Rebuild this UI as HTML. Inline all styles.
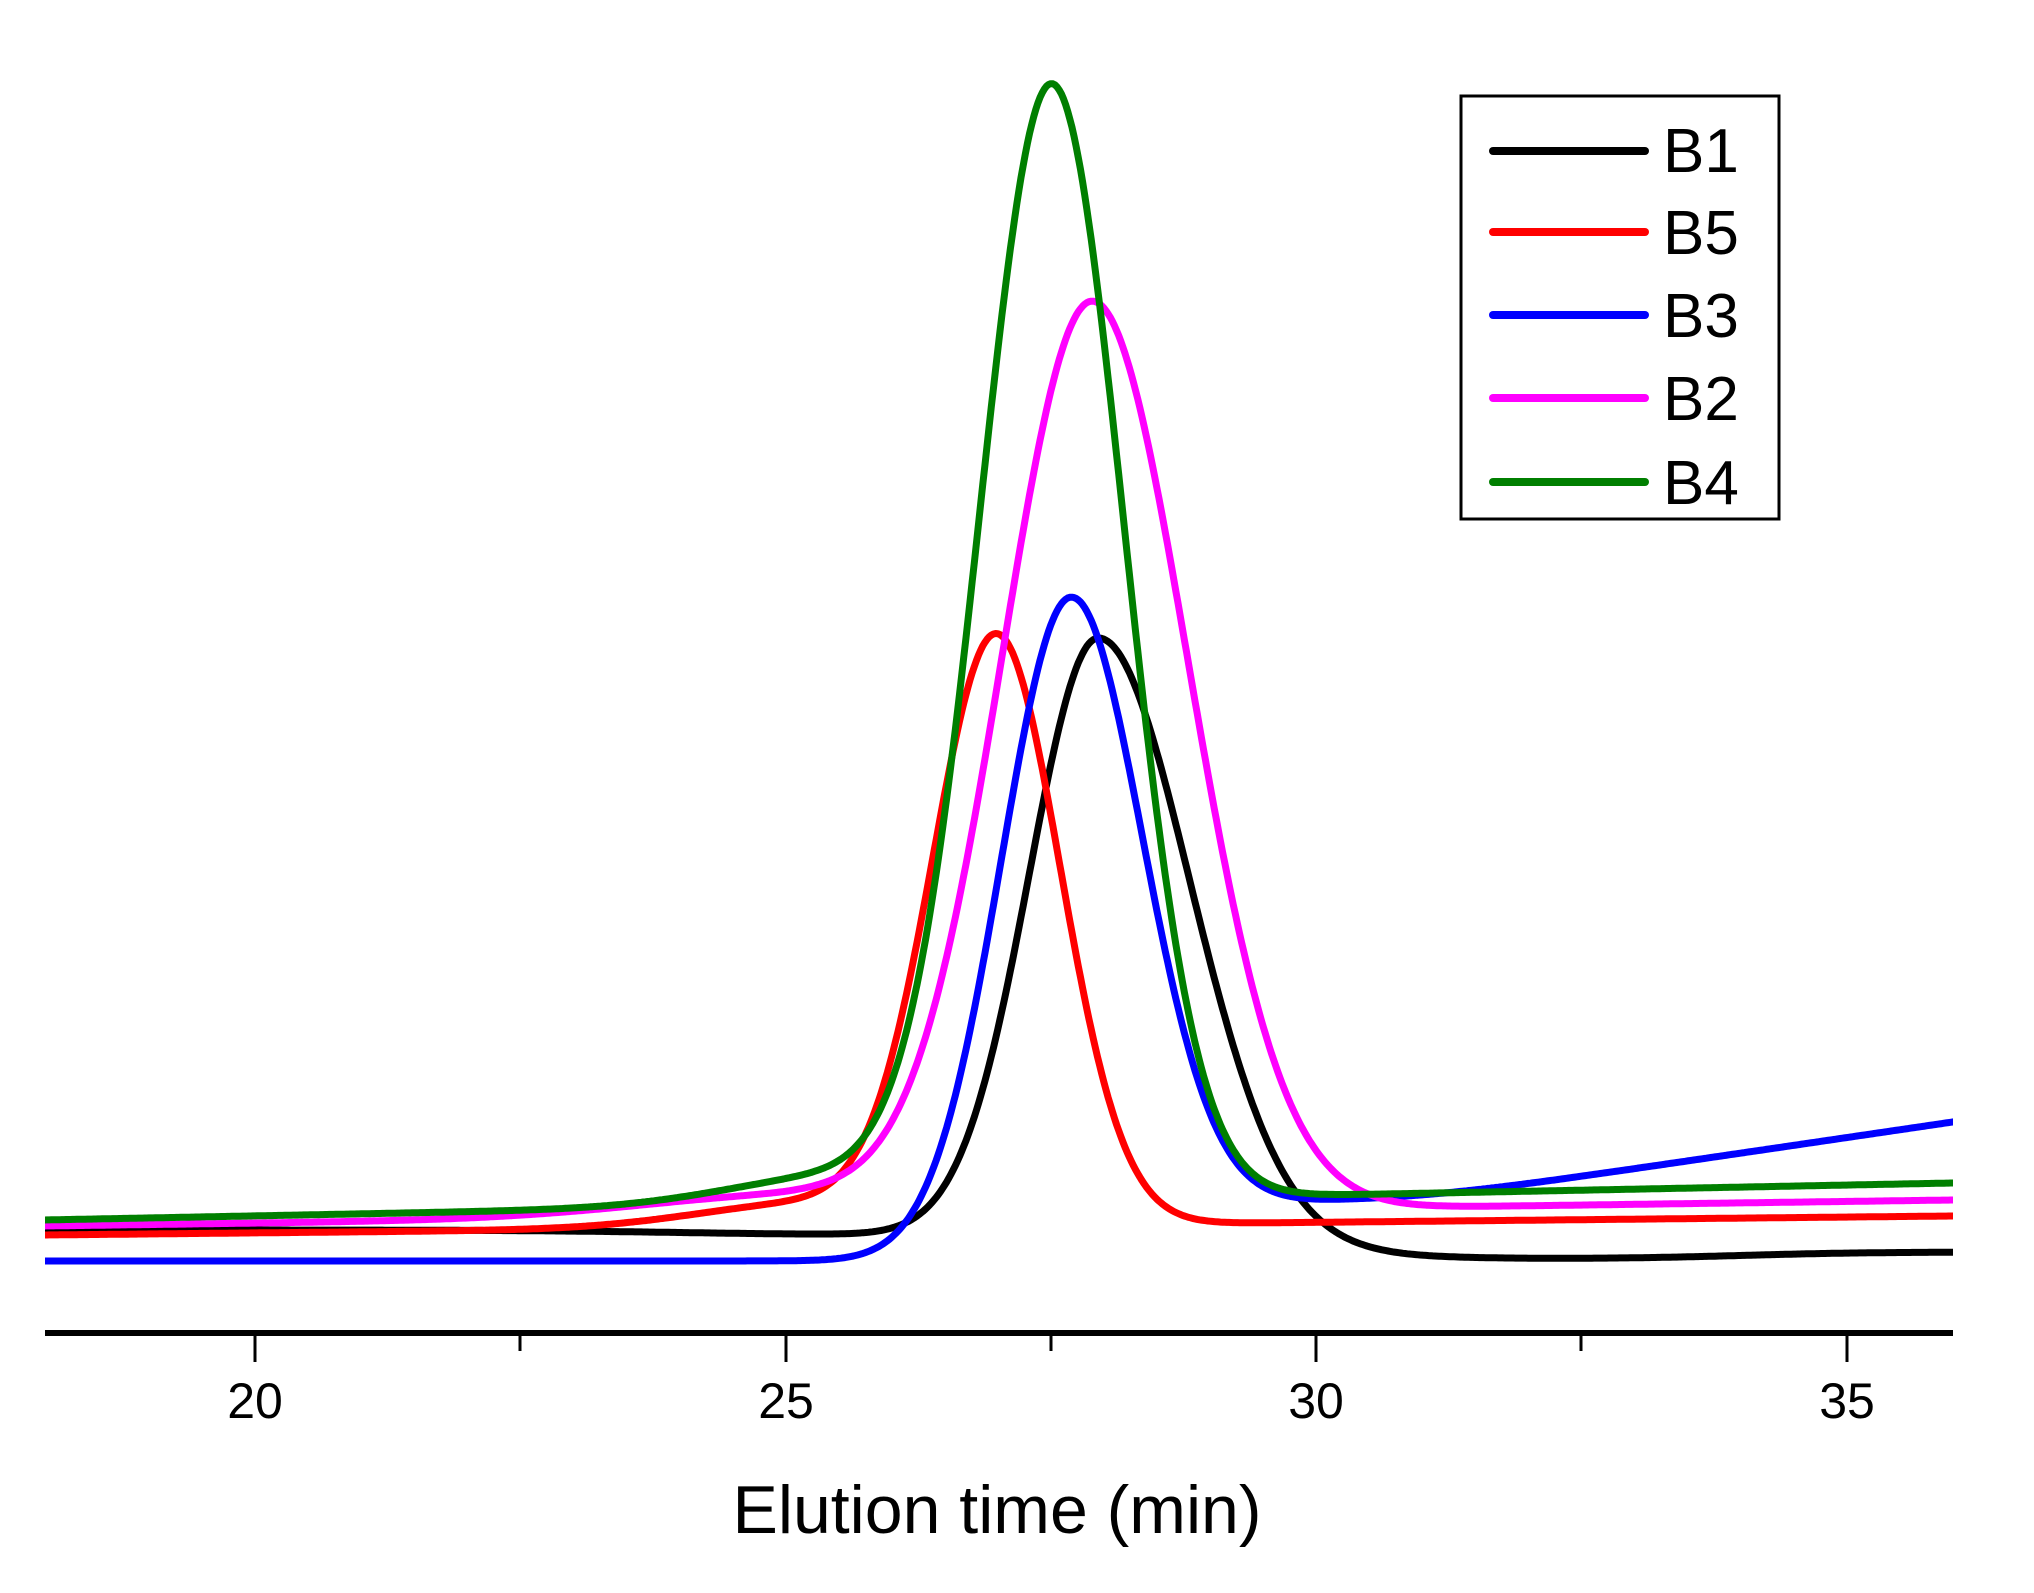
<!DOCTYPE html>
<html><head><meta charset="utf-8">
<style>
html,body{margin:0;padding:0;background:#fff;}
svg{display:block;font-family:"Liberation Sans",Arial,sans-serif;}
</style></head>
<body>
<svg id="s" width="2034" height="1593" viewBox="0 0 2034 1593" xmlns="http://www.w3.org/2000/svg">
<defs><clipPath id="c"><rect x="45" y="0" width="1908" height="1328"/></clipPath></defs>
<g id="curves" clip-path="url(#c)" fill="none" stroke-width="7" stroke-linejoin="round"></g>
<line x1="45" y1="1333" x2="1953" y2="1333" stroke="#000" stroke-width="6"/>
<g stroke="#000" stroke-width="3">
<line x1="255" y1="1333" x2="255" y2="1362"/>
<line x1="520" y1="1333" x2="520" y2="1351"/>
<line x1="786" y1="1333" x2="786" y2="1362"/>
<line x1="1051" y1="1333" x2="1051" y2="1351"/>
<line x1="1316" y1="1333" x2="1316" y2="1362"/>
<line x1="1581" y1="1333" x2="1581" y2="1351"/>
<line x1="1847" y1="1333" x2="1847" y2="1362"/>
</g>
<g font-size="50" text-anchor="middle">
<text x="255" y="1418">20</text>
<text x="786" y="1418">25</text>
<text x="1316" y="1418">30</text>
<text x="1847" y="1418">35</text>
</g>
<text x="997" y="1533" font-size="68" text-anchor="middle">Elution time (min)</text>
<rect x="1461" y="96" width="318" height="423" fill="#fff" stroke="#000" stroke-width="3"/>
<g stroke-width="8" stroke-linecap="round">
<line x1="1493" y1="151" x2="1645" y2="151" stroke="#000"/>
<line x1="1493" y1="232" x2="1645" y2="232" stroke="#f00"/>
<line x1="1493" y1="315" x2="1645" y2="315" stroke="#00f"/>
<line x1="1493" y1="398" x2="1645" y2="398" stroke="#f0f"/>
<line x1="1493" y1="482" x2="1645" y2="482" stroke="#007f00"/>
</g>
<g font-size="62">
<text x="1663" y="172">B1</text>
<text x="1663" y="254">B5</text>
<text x="1663" y="337">B3</text>
<text x="1663" y="420">B2</text>
<text x="1663" y="504">B4</text>
</g>
</svg>
<script>
function X(t){return 255+(t-20)*106.1;}
function sig(z){return 1/(1+Math.exp(-z));}
function sp(z){return Math.log(1+Math.exp(z));}
function g(t,mu,sl,sr){var s=t<mu?sl:sr;return Math.exp(-(t-mu)*(t-mu)/(2*s*s));}
function lin(t,a,b){return a+(b-a)*(t-18)/18;}
var series=[
 ["#000",function(t){var b=1230+5*sig((t-24)/0.8)+24*sig((t-29.8)/0.6)-7*sig((t-34)/0.6);return b-(1238-640)*g(t,27.95,0.65,0.85);}],
 ["#f00",function(t){var b=lin(t,1235,1216);return b-(1226-640)*g(t,26.99,0.6,0.6)-25*g(t,25.3,1.1,1.0);}],
 ["#00f",function(t){var b=1261-61*sig((t-28.3)/0.5)-15.6*0.5*sp((t-31)/0.5);return b-(1235-585)*g(t,27.68,0.65,0.68);}],
 ["#f0f",function(t){var b=lin(t,1226,1200);return b-(1213-303)*g(t,27.89,0.85,0.9)-22*g(t,25.2,1.5,1.0);}],
 ["#007f00",function(t){var b=lin(t,1220,1183);return b-(1200-88)*g(t,27.51,0.68,0.68)-30*g(t,25.6,1.1,1.0);}]
];
var G=document.getElementById("curves");
series.forEach(function(s){
 var d="";
 for(var t=17.8;t<=36.3;t+=0.02){var y=s[1](t);d+=(d?"L":"M")+X(t).toFixed(1)+" "+y.toFixed(1);}
 var p=document.createElementNS("http://www.w3.org/2000/svg","path");
 p.setAttribute("d",d);p.setAttribute("stroke",s[0]);G.appendChild(p);
});
</script>
</body></html>
